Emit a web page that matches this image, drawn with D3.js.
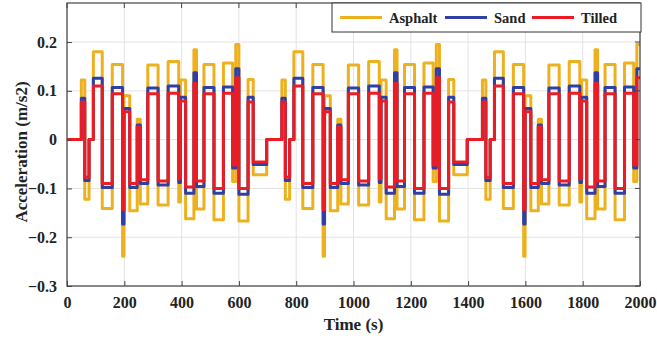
<!DOCTYPE html>
<html>
<head>
<meta charset="utf-8">
<script src="https://cdn.jsdelivr.net/npm/d3@7"></script>
<style>
    html, body { margin: 0; padding: 0; background: #fff; }
</style>
</head>
<body>
<svg id="chart" width="657" height="341"></svg>
<script>
// ─── DATA (one drive cycle; the cycle repeats every 700 s) ───
const cycleStarts = [0, 700, 1400];
const stepTimes = [0, 50, 62, 77, 92, 123, 158, 194, 199, 219, 245, 256, 282, 318, 353, 390, 396, 414, 443, 452, 478, 513, 546, 578, 589, 600, 632, 650, 697];
const tilled  = [0, 0.077, -0.077, 0, 0.110, -0.090, 0.094, -0.143, 0.057, -0.090, 0.026, -0.082, 0.094, -0.085, 0.095, -0.080, 0.079, -0.097, 0.115, -0.085, 0.094, -0.100, 0.095, -0.052, 0.127, -0.100, 0.077, -0.046, 0];
const sand    = [0, 0.085, -0.084, 0, 0.126, -0.098, 0.107, -0.173, 0.064, -0.098, 0.030, -0.090, 0.106, -0.093, 0.110, -0.088, 0.087, -0.110, 0.137, -0.096, 0.107, -0.110, 0.108, -0.058, 0.145, -0.112, 0.087, -0.051, 0];
const asphalt = [0, 0.122, -0.122, 0, 0.180, -0.141, 0.154, -0.239, 0.090, -0.146, 0.042, -0.132, 0.153, -0.134, 0.160, -0.128, 0.122, -0.162, 0.184, -0.142, 0.154, -0.164, 0.157, -0.086, 0.195, -0.167, 0.123, -0.072, 0];

const xTicks = [0, 200, 400, 600, 800, 1000, 1200, 1400, 1600, 1800, 2000];
const yTicks = [-0.3, -0.2, -0.1, 0, 0.1, 0.2];

const series = [
    { name: "Asphalt", values: asphalt, color: "#EDB120" },
    { name: "Sand",    values: sand,    color: "#2E3FA6" },
    { name: "Tilled",  values: tilled,  color: "#EC1C24" }
];

const PLOT = { left: 67, right: 640, top: 3, bottom: 286 };
const T_END = 2000;
const FONT = "'Liberation Serif', 'DejaVu Serif', serif";

const svg = d3.select("#chart");

const x = d3.scaleLinear().domain([0, 2000]).range([PLOT.left, PLOT.right]);
const y = d3.scaleLinear().domain([-0.3, 0.28]).range([PLOT.bottom, PLOT.top]);

// build step points for a series over all cycles
function buildPoints(values) {
    const pts = [];
    cycleStarts.forEach(c => {
        stepTimes.forEach((t, i) => {
            if (c + t < T_END) pts.push({ t: c + t, v: values[i] });
        });
    });
    pts.push({ t: T_END, v: pts[pts.length - 1].v });
    return pts;
}

function styleText(sel, size) {
    sel.style("font-family", FONT)
        .style("font-weight", "bold")
        .style("font-size", size + "px")
        .attr("fill", "#222");
}

// ─── GRID ───
const grid = svg.append("g").attr("class", "grid");
grid.selectAll("line.gx").data(xTicks).join("line")
    .attr("class", "gx")
    .attr("x1", d => x(d)).attr("x2", d => x(d))
    .attr("y1", PLOT.top).attr("y2", PLOT.bottom)
    .attr("stroke", "#e3e3e3").attr("stroke-width", 1);
grid.selectAll("line.gy").data(yTicks).join("line")
    .attr("class", "gy")
    .attr("x1", PLOT.left).attr("x2", PLOT.right)
    .attr("y1", d => y(d)).attr("y2", d => y(d))
    .attr("stroke", "#e3e3e3").attr("stroke-width", 1);

// ─── LINES ───
svg.append("clipPath").attr("id", "clip")
    .append("rect")
    .attr("x", PLOT.left).attr("y", PLOT.top)
    .attr("width", PLOT.right - PLOT.left).attr("height", PLOT.bottom - PLOT.top);

const line = d3.line()
    .x(d => x(d.t))
    .y(d => y(d.v))
    .curve(d3.curveStepAfter);

svg.append("g").attr("clip-path", "url(#clip)")
    .selectAll("path.series")
    .data(series)
    .join("path")
    .attr("class", "series")
    .attr("fill", "none")
    .attr("stroke", d => d.color)
    .attr("stroke-width", 3)
    .attr("stroke-linejoin", "round")
    .attr("d", d => line(buildPoints(d.values)));

// ─── AXES ───
const xAxis = svg.append("g")
    .attr("transform", `translate(0,${PLOT.bottom})`)
    .call(d3.axisBottom(x).tickValues(xTicks).tickFormat(d3.format("d"))
        .tickSizeInner(-5).tickSizeOuter(0).tickPadding(11));
const yAxis = svg.append("g")
    .attr("transform", `translate(${PLOT.left},0)`)
    .call(d3.axisLeft(y).tickValues(yTicks).tickFormat(d => d === 0 ? "0" : d3.format(".1f")(d))
        .tickSizeInner(-5).tickSizeOuter(0).tickPadding(10));

[xAxis, yAxis].forEach(a => {
    a.attr("font-family", null).attr("font-size", null);
    a.select(".domain").remove();
    a.selectAll(".tick line").attr("stroke", "#444");
    styleText(a.selectAll(".tick text"), 16);
});

// top / right ticks (box style)
svg.append("g").selectAll("line").data(xTicks).join("line")
    .attr("x1", d => x(d)).attr("x2", d => x(d))
    .attr("y1", PLOT.top).attr("y2", PLOT.top + 5)
    .attr("stroke", "#444");
svg.append("g").selectAll("line").data(yTicks).join("line")
    .attr("x1", PLOT.right - 5).attr("x2", PLOT.right)
    .attr("y1", d => y(d)).attr("y2", d => y(d))
    .attr("stroke", "#444");

svg.append("rect")
    .attr("x", PLOT.left).attr("y", PLOT.top)
    .attr("width", PLOT.right - PLOT.left).attr("height", PLOT.bottom - PLOT.top)
    .attr("fill", "none").attr("stroke", "#444").attr("stroke-width", 1.2);

// ─── AXIS LABELS ───
svg.append("text")
    .attr("x", (PLOT.left + PLOT.right) / 2).attr("y", 330)
    .attr("text-anchor", "middle")
    .call(styleText, 17)
    .text("Time (s)");
svg.append("text")
    .attr("transform", "translate(27,152) rotate(-90)")
    .attr("text-anchor", "middle")
    .call(styleText, 17)
    .text("Acceleration (m/s2)");

// ─── LEGEND ───
const legend = svg.append("g").attr("transform", "translate(332,3)");
legend.append("rect")
    .attr("width", 309).attr("height", 29)
    .attr("fill", "#fff").attr("stroke", "#333").attr("stroke-width", 1);

const legendX = [8, 113, 200];
const item = legend.selectAll("g.item").data(series).join("g")
    .attr("class", "item")
    .attr("transform", (d, i) => `translate(${legendX[i]},14.5)`);
item.append("line")
    .attr("x1", 0).attr("x2", 42)
    .attr("stroke", d => d.color).attr("stroke-width", 3);
item.append("text")
    .attr("x", 49).attr("dy", "0.35em")
    .call(styleText, 14.5)
    .text(d => d.name);
</script>
</body>
</html>
